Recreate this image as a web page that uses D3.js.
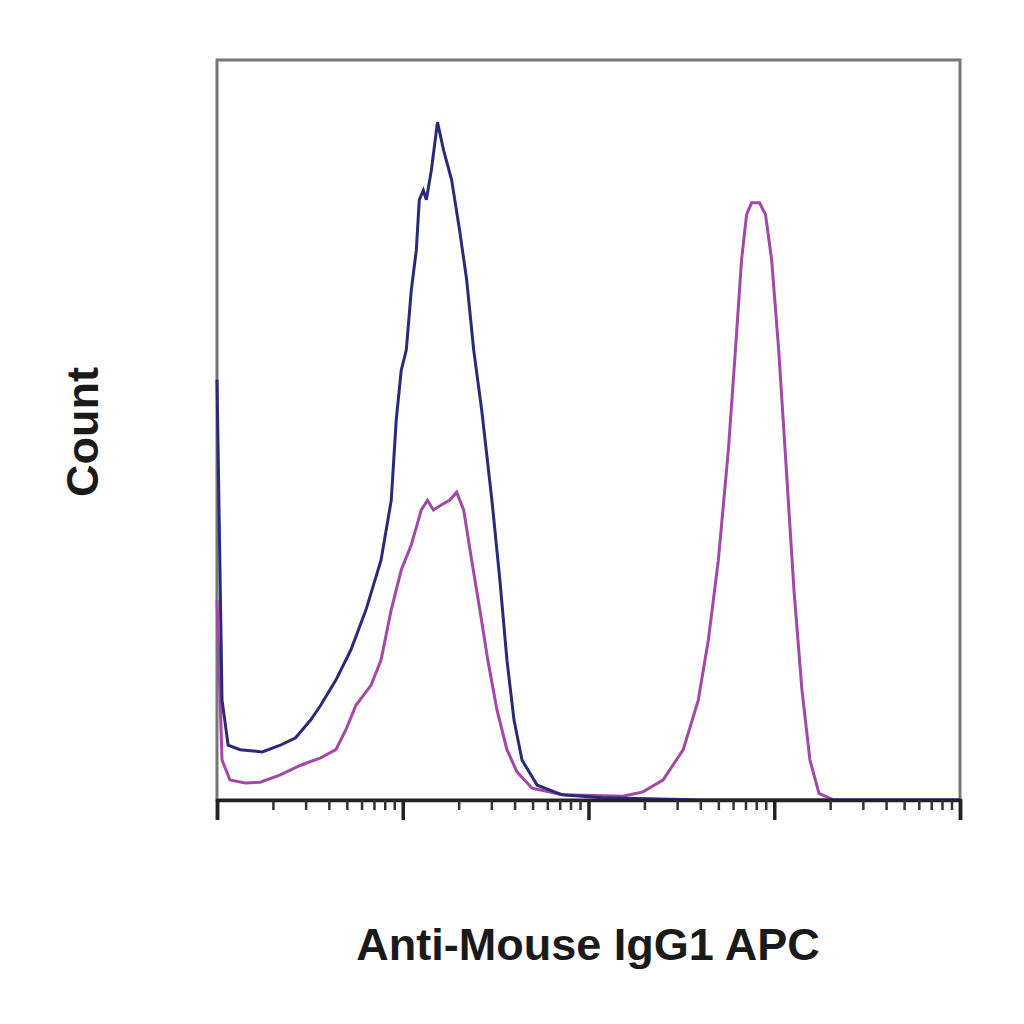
<!DOCTYPE html><html><head><meta charset="utf-8"><script src="https://cdn.jsdelivr.net/npm/d3@7"></script>
<style>body{margin:0;background:#fff}</style></head><body><svg id="c" width="1024" height="1024"></svg>
<script>
const blueX=[0,0.027,0.06,0.125,0.244,0.341,0.423,0.504,0.558,0.64,0.721,0.802,0.883,0.938,0.965,0.992,1.019,1.046,1.073,1.089,1.111,1.127,1.154,1.187,1.22,1.263,1.306,1.344,1.382,1.425,1.48,1.523,1.561,1.599,1.642,1.724,1.859,2.076,2.618,4];
const blueY=[56.8,13.5,7.4,6.8,6.5,7.4,8.4,10.8,12.8,16.2,20.3,25.7,32.4,40.5,51.4,58.1,60.8,68.9,74.3,81.1,82.4,81.1,85.1,91.6,87.8,83.8,77.0,70.3,60.8,52.7,40.5,29.7,18.9,10.8,5.4,2.0,0.7,0.3,0,0];
const purpleX=[0,0.027,0.07,0.152,0.233,0.341,0.45,0.558,0.64,0.694,0.748,0.829,0.883,0.938,0.992,1.046,1.1,1.133,1.165,1.209,1.252,1.29,1.328,1.371,1.415,1.458,1.507,1.561,1.615,1.696,1.859,2.184,2.293,2.401,2.51,2.591,2.645,2.699,2.753,2.791,2.824,2.851,2.878,2.921,2.953,2.986,3.024,3.062,3.106,3.149,3.192,3.241,3.322,4];
const purpleY=[27.0,5.4,2.7,2.3,2.4,3.4,4.7,5.7,6.8,9.5,12.8,15.5,18.9,25.7,31.1,34.5,39.2,40.5,39.2,39.9,40.5,41.6,39.2,32.4,25.7,18.9,12.2,6.8,3.8,1.6,0.7,0.5,1.1,2.7,6.8,13.5,21.6,32.4,47.3,60.8,73.0,79.1,80.7,80.7,79.1,73.0,60.8,45.9,28.4,14.9,5.4,0.9,0,0];
const majorTicks=[0,1,2,3,4];
const xLabel="Anti-Mouse IgG1 APC", yLabel="Count";

const svg=d3.select("#c");
const L=217,R=960,T=60,B=800;
const x=d3.scaleLinear().domain([0,4]).range([L,R]);
const y=d3.scaleLinear().domain([0,100]).range([B,T]);
svg.append("rect").attr("x",L).attr("y",T).attr("width",R-L).attr("height",B-T).attr("fill","none").attr("stroke","#777").attr("stroke-width",3);
const line=d3.line().x((d,i)=>x(d[0])).y(d=>y(d[1]));
svg.append("path").datum(purpleX.map((v,i)=>[v,purpleY[i]])).attr("d",line).attr("fill","none").attr("stroke","#a347a8").attr("stroke-width",3);
svg.append("path").datum(blueX.map((v,i)=>[v,blueY[i]])).attr("d",line).attr("fill","none").attr("stroke","#2b2a78").attr("stroke-width",3);
const minor=[];for(let d=0;d<4;d++)for(let k=2;k<10;k++)minor.push(d+Math.log10(k));
const ax=svg.append("g").attr("transform",`translate(0,${B})`).call(d3.axisBottom(x).tickValues(majorTicks).tickSize(20).tickFormat(""));
ax.selectAll("path,line").attr("stroke","#222").attr("stroke-width",3.5);
const mi=svg.append("g").attr("transform",`translate(0,${B})`).call(d3.axisBottom(x).tickValues(minor).tickSize(10).tickFormat(""));
mi.select("path").remove();mi.selectAll("line").attr("stroke","#333").attr("stroke-width",2.5);
svg.append("text").attr("x",588).attr("y",960).attr("text-anchor","middle").attr("font-family","Liberation Sans, Arial").attr("font-weight","bold").attr("font-size",45).attr("fill","#1a1a1a").text(xLabel);
svg.append("text").attr("transform","translate(98,432) rotate(-90)").attr("text-anchor","middle").attr("font-family","Liberation Sans, Arial").attr("font-weight","bold").attr("font-size",45).attr("fill","#1a1a1a").text(yLabel);
</script></body></html>
